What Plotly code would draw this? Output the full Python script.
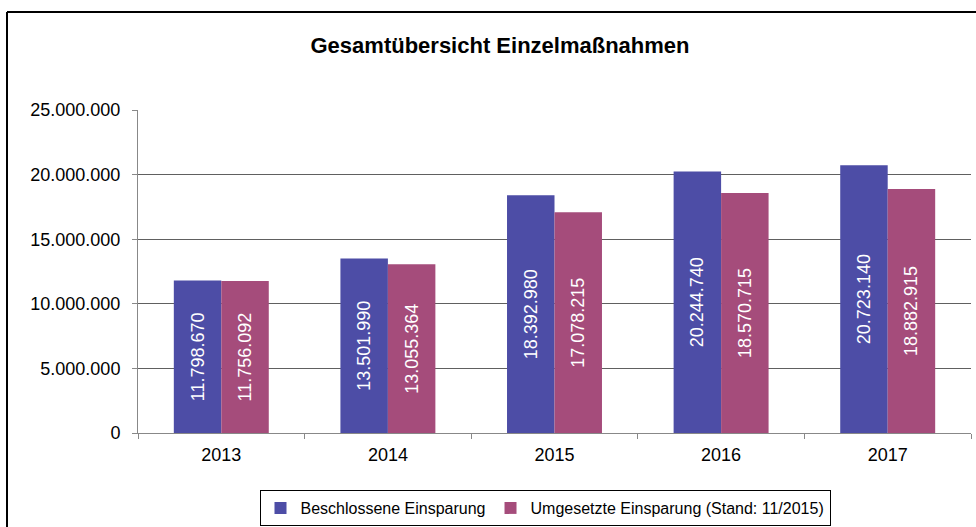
import plotly.graph_objects as go

years = ["2013", "2014", "2015", "2016", "2017"]
beschlossen = [11798670, 13501990, 18392980, 20244740, 20723140]
umgesetzt = [11756092, 13055364, 17078215, 18570715, 18882915]
series_names = ["Beschlossene Einsparung", "Umgesetzte Einsparung (Stand: 11/2015)"]
y_ticks = [0, 5000000, 10000000, 15000000, 20000000, 25000000]
title_text = "Gesamtübersicht Einzelmaßnahmen"

FONT = "Liberation Sans, Arial, sans-serif"
colors = ["#4d4da6", "#a54c7b"]

fig = go.Figure()
for name, vals, col in zip(series_names, [beschlossen, umgesetzt], colors):
    fig.add_trace(go.Bar(
        x=years, y=vals, name=name,
        marker=dict(color=col, line=dict(width=0)),
        texttemplate="%{y:,.0f}", textposition="inside",
        insidetextanchor="middle", textangle=-90,
        textfont=dict(color="white", size=18, family=FONT),
    ))

W, H = 976, 527
L, R, T, B = 138, 5, 110, 94
pw, ph = W - L - R, H - T - B
def px_x(px):
    return (px - L) / pw
def px_y(py):
    return (H - B - py) / ph

fig.update_layout(
    width=W, height=H,
    margin=dict(l=L, r=R, t=T, b=B, autoexpand=False),
    paper_bgcolor="white", plot_bgcolor="white",
    separators=",.",
    barmode="group", bargap=0.43, bargroupgap=0,
    font=dict(family=FONT, size=18, color="black"),
    title=dict(text="<b>" + title_text + "</b>", x=px_x(500), xref="paper",
               y=1 - 45 / H, yref="container", xanchor="center", yanchor="middle",
               font=dict(size=22, family=FONT, color="black")),
    showlegend=True,
    legend=dict(orientation="h", x=px_x(545), xanchor="center", y=px_y(490), yanchor="top",
                bordercolor="black", borderwidth=1, bgcolor="white",
                font=dict(size=16, family=FONT), itemwidth=30, traceorder="normal"),
    xaxis=dict(showgrid=False, showline=True, linecolor="#888888", linewidth=1,
               ticks="outside", tickson="boundaries", ticklen=5, tickcolor="#888888",
               tickfont=dict(size=18, family=FONT), automargin=False,
               ticklabelstandoff=5),
    yaxis=dict(range=[0, 25000000], tickvals=y_ticks, tickformat=",.0f",
               showgrid=True, gridcolor="#606060", gridwidth=1,
               showline=True, linecolor="#888888", linewidth=1,
               ticks="outside", ticklen=5, tickcolor="#888888",
               tickfont=dict(size=18, family=FONT), zeroline=False, automargin=False,
               ticklabelstandoff=8),
    shapes=[
        dict(type="line", xref="paper", yref="paper", x0=px_x(7), x1=px_x(990),
             y0=px_y(12), y1=px_y(12), line=dict(color="black", width=2)),
        dict(type="line", xref="paper", yref="paper", x0=px_x(7), x1=px_x(7),
             y0=px_y(12), y1=px_y(540), line=dict(color="black", width=2)),
    ],
)

fig.write_html("out.html", config={"displayModeBar": False},
               post_script="document.body.style.margin='0px';")
